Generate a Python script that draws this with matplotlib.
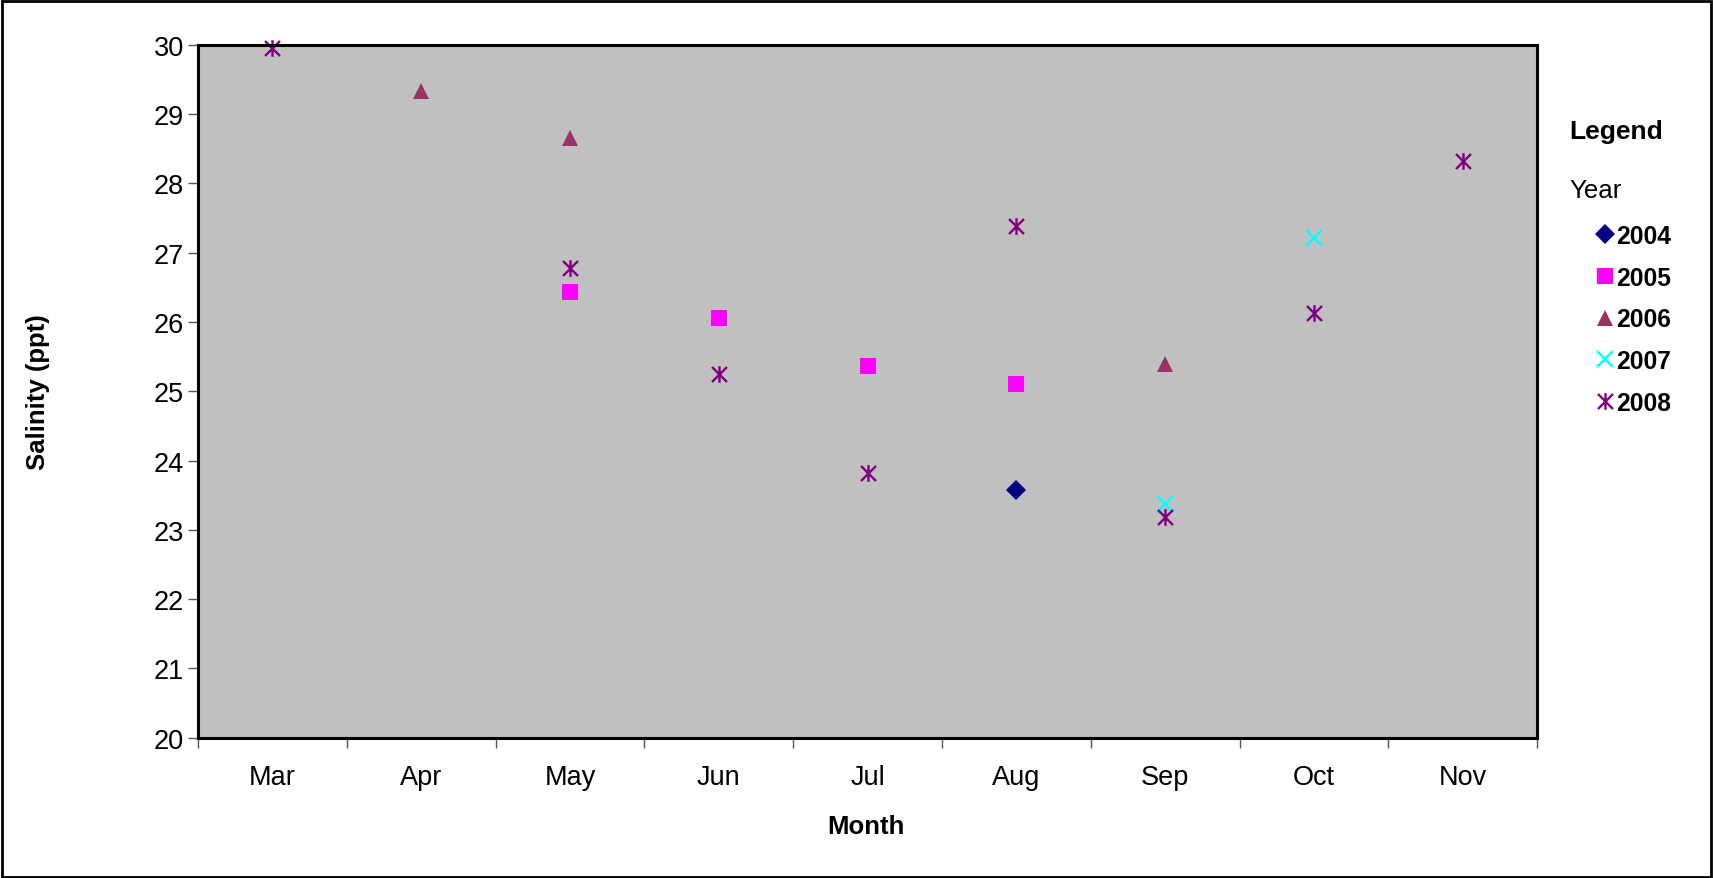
import matplotlib
matplotlib.use("Agg")
import matplotlib.pyplot as plt
from matplotlib.path import Path
from matplotlib.patches import Rectangle

plt.rcParams['font.family'] = ['Liberation Sans', 'DejaVu Sans']

months = ["Mar", "Apr", "May", "Jun", "Jul", "Aug", "Sep", "Oct", "Nov"]

m2004 = ["Aug"]
v2004 = [23.57]
m2005 = ["May", "Jun", "Jul", "Aug"]
v2005 = [26.43, 26.06, 25.37, 25.10]
m2006 = ["Apr", "May", "Sep"]
v2006 = [29.34, 28.66, 25.39]
m2007 = ["Sep", "Oct"]
v2007 = [23.37, 27.22]
m2008 = ["Mar", "May", "Jun", "Jul", "Aug", "Sep", "Oct", "Nov"]
v2008 = [29.95, 26.78, 25.25, 23.82, 27.38, 23.18, 26.13, 28.33]

yticks = list(range(20, 31))

star = Path([(0, -1), (0, 1), (-0.9, -0.9), (0.9, 0.9), (-0.9, 0.9), (0.9, -0.9)],
            [Path.MOVETO, Path.LINETO, Path.MOVETO, Path.LINETO, Path.MOVETO, Path.LINETO])

series = [
    ("2004", m2004, v2004, dict(marker='D', color='#000080', ms=10, mew=0)),
    ("2005", m2005, v2005, dict(marker='s', color='#FF00FF', ms=11, mew=0)),
    ("2006", m2006, v2006, dict(marker='^', color='#993366', ms=11, mew=0)),
    ("2007", m2007, v2007, dict(marker='x', color='#00FFFF', ms=11, mew=1.7)),
    ("2008", m2008, v2008, dict(marker=star, color='#800080', ms=12, mew=1.7)),
]

fig = plt.figure(figsize=(17.13, 8.79), dpi=100)
ax = fig.add_axes([0.1156, 0.1598, 0.8973 - 0.1156, 0.9477 - 0.1598])
ax.set_facecolor('#C0C0C0')

idx = {m: i for i, m in enumerate(months)}
handles = []
for name, ms_, vs, st in series:
    xs = [idx[m] for m in ms_]
    h, = ax.plot(xs, vs, linestyle='none', marker=st['marker'], color=st['color'],
                 markersize=st['ms'], markeredgewidth=st['mew'], label=name, clip_on=False)
    handles.append(h)

ax.set_xlim(-0.5, len(months) - 0.5)
ax.set_ylim(20, 30)
ax.set_yticks(yticks)
ax.set_yticklabels([str(t) for t in yticks])
ax.set_xticks(range(len(months)))
ax.set_xticklabels(months)
ax.set_xticks([i - 0.5 for i in range(len(months) + 1)], minor=True)
ax.tick_params(axis='x', which='major', length=0, pad=19, labelsize=19.5)
ax.tick_params(axis='x', which='minor', length=7, width=1, color='#555555', direction='out')
ax.tick_params(axis='y', which='major', length=7, width=1, color='#555555', direction='out',
               pad=3, labelsize=19.5)
for sp in ax.spines.values():
    sp.set_linewidth(2.2)
    sp.set_color('black')

fig.text(866 / 1713, 1 - 827 / 879, "Month", fontsize=18.5, fontweight='bold',
         ha='center', va='center')
fig.text(38 / 1713, 1 - 392 / 879, "Salinity (ppt)", fontsize=18.5, fontweight='bold',
         ha='center', va='center', rotation=90)

fig.text(1569 / 1713, 1 - 132 / 879, "Legend", fontsize=19, fontweight='bold', va='center', ha='left')
fig.text(1569 / 1713, 1 - 191 / 879, "Year", fontsize=18.6, va='center', ha='left')

leg = fig.legend(handles=handles, labels=[s[0] for s in series],
                 loc='upper left', bbox_to_anchor=(1588 / 1713, 1 - 215 / 879),
                 frameon=False, prop={'size': 17.7, 'weight': 'bold'},
                 handlelength=0.55, handletextpad=0.2, labelspacing=0.72,
                 markerscale=1.0, borderaxespad=0)

fig.patches.append(Rectangle((0.001, 0.001), 0.998, 0.997, transform=fig.transFigure,
                             fill=False, edgecolor='black', linewidth=2))

fig.savefig("out.png", dpi=100)
